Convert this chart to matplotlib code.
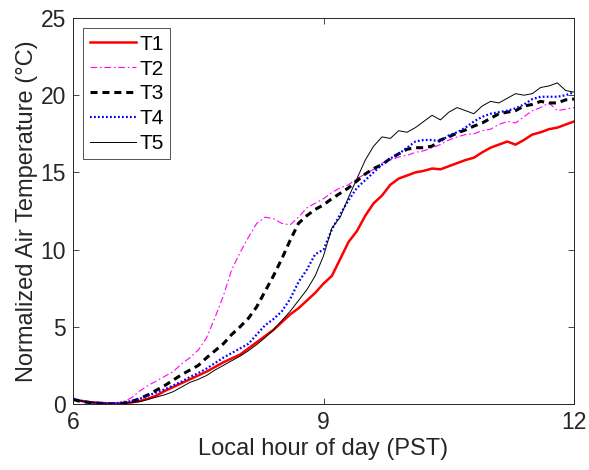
import numpy as np
import matplotlib
matplotlib.use("Agg")
import matplotlib.pyplot as plt

plt.rcParams['font.family'] = ['Liberation Sans', 'DejaVu Sans']

hours = np.round(np.arange(6.0, 12.0001, 0.1), 1)

T1 = [0.30, 0.20, 0.12, 0.08, 0.05, 0.03, 0.05, 0.10, 0.20, 0.35,
      0.55, 0.85, 1.10, 1.35, 1.60, 1.85, 2.10, 2.40, 2.70, 2.95,
      3.20, 3.60, 4.00, 4.40, 4.80, 5.30, 5.80, 6.20, 6.70, 7.20,
      7.80, 8.30, 9.40, 10.50, 11.20, 12.20, 13.00, 13.50, 14.20, 14.60,
      14.80, 15.00, 15.10, 15.25, 15.20, 15.40, 15.60, 15.80, 15.95, 16.30,
      16.60, 16.80, 17.00, 16.80, 17.10, 17.45, 17.60, 17.80, 17.90, 18.10,
      18.30]

T2 = [0.30, 0.15, 0.10, 0.05, 0.05, 0.05, 0.15, 0.40, 0.85, 1.20,
      1.50, 1.80, 2.10, 2.60, 3.00, 3.50, 4.30, 5.60, 7.00, 8.70,
      9.80, 10.80, 11.70, 12.10, 12.00, 11.70, 11.60, 12.10, 12.70, 13.00,
      13.30, 13.70, 14.00, 14.20, 14.60, 14.90, 15.20, 15.60, 15.80, 16.00,
      16.10, 16.30, 16.40, 16.60, 16.80, 17.10, 17.30, 17.45, 17.50, 17.70,
      17.80, 18.10, 18.30, 18.20, 18.60, 19.00, 19.20, 19.50, 19.00, 19.10,
      19.20]

T3 = [0.30, 0.15, 0.10, 0.05, 0.00, 0.00, 0.05, 0.15, 0.35, 0.60,
      0.90, 1.20, 1.55, 1.90, 2.20, 2.50, 3.00, 3.45, 3.90, 4.50,
      5.00, 5.55, 6.30, 7.30, 8.30, 9.40, 10.60, 11.70, 12.20, 12.60,
      12.90, 13.30, 13.65, 14.00, 14.45, 14.90, 15.25, 15.50, 15.90, 16.20,
      16.50, 16.60, 16.60, 16.70, 17.10, 17.30, 17.55, 17.75, 18.00, 18.20,
      18.50, 18.80, 18.90, 19.00, 19.30, 19.40, 19.60, 19.50, 19.50, 19.70,
      19.75]

T4 = [0.35, 0.20, 0.12, 0.08, 0.05, 0.05, 0.10, 0.20, 0.35, 0.55,
      0.75, 0.95, 1.20, 1.45, 1.75, 2.00, 2.30, 2.65, 3.00, 3.30,
      3.60, 3.90, 4.50, 5.10, 5.50, 6.00, 6.80, 7.90, 8.70, 9.70,
      10.00, 11.30, 12.30, 13.20, 14.00, 14.50, 15.00, 15.50, 15.90, 16.20,
      16.60, 17.00, 17.10, 17.10, 17.00, 17.40, 17.60, 17.90, 18.30, 18.60,
      18.80, 18.90, 19.00, 19.15, 19.40, 19.75, 19.90, 19.90, 19.90, 20.00,
      20.20]

T5 = [0.35, 0.20, 0.10, 0.05, 0.00, -0.05, 0.05, 0.10, 0.15, 0.30,
      0.45, 0.60, 0.80, 1.10, 1.40, 1.60, 1.85, 2.20, 2.50, 2.80,
      3.10, 3.45, 3.85, 4.30, 4.80, 5.40, 6.00, 6.70, 7.40, 8.30,
      9.60, 11.40, 12.10, 13.40, 14.60, 15.80, 16.70, 17.30, 17.20, 17.70,
      17.60, 17.90, 18.30, 18.70, 18.40, 18.90, 19.20, 19.00, 18.80, 19.30,
      19.60, 19.50, 19.80, 20.10, 20.00, 20.10, 20.50, 20.60, 20.80, 20.30,
      20.20]

series_labels = ['T1', 'T2', 'T3', 'T4', 'T5']
x_ticks = [6, 9, 12]
y_ticks = [0, 5, 10, 15, 20, 25]

fig = plt.figure(figsize=(5.89, 4.70), dpi=100)
ax = fig.add_axes([0.124, 0.1404, 0.8506, 0.8213])

ax.plot(hours, T1, color='#ff0000', lw=1.8, ls='-', label=series_labels[0])
ax.plot(hours, T2, color='#ff00ff', lw=0.8, ls=(0, (6, 2.5, 1.5, 2.5)), label=series_labels[1])
ax.plot(hours, T3, color='black', lw=2.2, ls=(0, (2.3, 1.6)), label=series_labels[2])
ax.plot(hours, T4, color='#0000ff', lw=1.6, ls=(0, (0.8, 1.0)), label=series_labels[3])
ax.plot(hours, T5, color='black', lw=0.7, ls='-', label=series_labels[4])

ax.set_xlim(6, 12)
ax.set_ylim(0, 25)
ax.set_xticks(x_ticks)
ax.set_yticks(y_ticks)
ax.tick_params(direction='in', top=True, right=True, length=4, width=0.6,
               labelsize=16.5, colors='#262626', pad=5)
for s in ax.spines.values():
    s.set_color('#262626')
    s.set_linewidth(0.7)

ax.set_xlabel('Local hour of day (PST)', fontsize=17, color='#262626', labelpad=3)
ax.set_ylabel('Normalized Air Temperature (°C)', fontsize=17, color='#262626', labelpad=2)

leg = ax.legend(loc='upper left', fontsize=15, frameon=True, fancybox=False,
                edgecolor='#262626', handlelength=2.2, handletextpad=0.2,
                labelspacing=0.28, borderpad=0.3, borderaxespad=0.5)
leg.get_frame().set_linewidth(0.7)

fig.savefig('out.png', dpi=100)
